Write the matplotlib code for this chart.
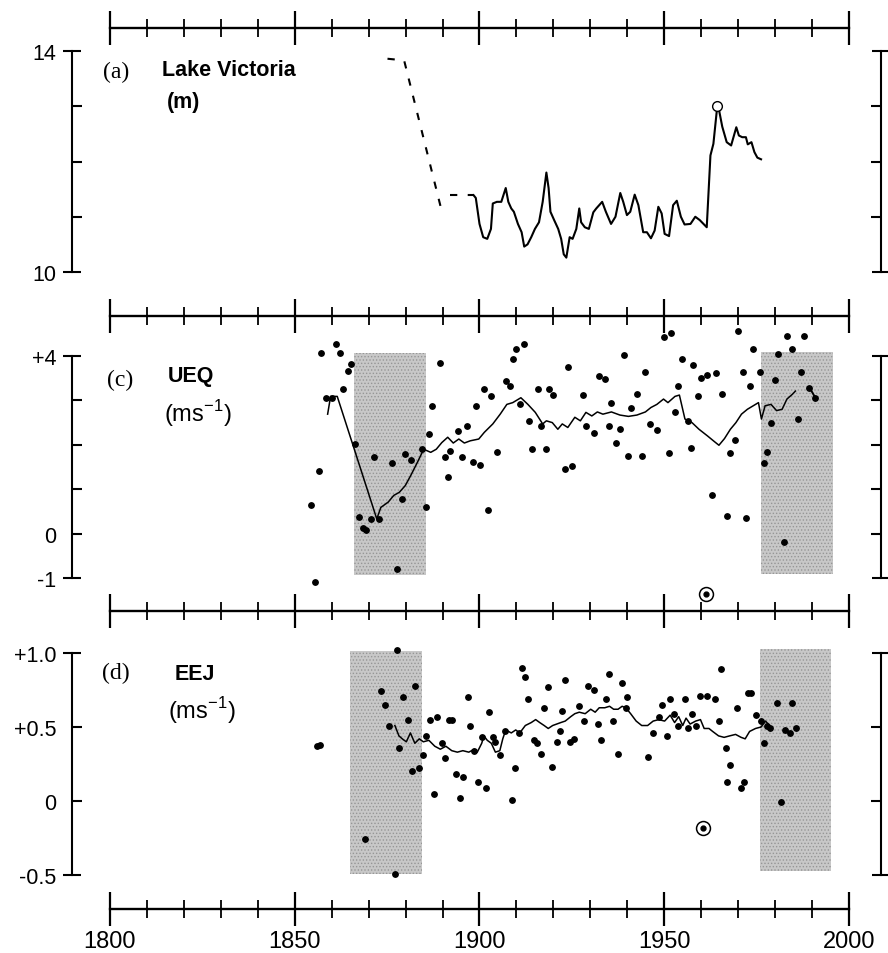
import matplotlib
matplotlib.use("Agg")
import matplotlib.pyplot as plt

plt.rcParams['font.family'] = ['Liberation Sans', 'DejaVu Sans']
plt.rcParams['mathtext.fontset'] = 'custom'
plt.rcParams['mathtext.rm'] = 'Liberation Sans'
plt.rcParams['hatch.linewidth'] = 0.6

# ---------------- data ----------------
# (a) Lake Victoria level (m)
lv_dash1_years = [1875.1, 1879.6, 1889.6]
lv_dash1_vals = [13.86, 13.83, 11.15]
lv_dash2_years = [1892.0, 1898.4]
lv_dash2_vals = [11.39, 11.39]
lv_years = [1898.4, 1899.0, 1900.0, 1901.0, 1902.1, 1903.1, 1903.6, 1904.7, 1905.9, 1907.1,
            1907.8, 1908.6, 1909.3, 1910.4, 1911.4, 1912.1, 1913.0, 1914.0, 1915.0, 1916.1,
            1917.1, 1918.1, 1918.7, 1919.2, 1920.2, 1921.3, 1922.1, 1922.8, 1923.5, 1924.4,
            1925.2, 1926.2, 1927.0, 1927.5, 1928.5, 1929.6, 1930.8, 1931.6, 1933.2, 1934.2,
            1935.6, 1936.8, 1938.1, 1938.9, 1939.9, 1940.8, 1942.0, 1943.0, 1944.3, 1945.3,
            1946.4, 1947.4, 1948.4, 1949.3, 1950.1, 1951.3, 1952.4, 1953.4, 1954.5, 1955.5,
            1957.1, 1958.4, 1959.6, 1961.5, 1962.5, 1963.3, 1964.3, 1964.8, 1965.7, 1966.9,
            1968.1, 1969.5, 1970.2, 1971.1, 1972.1, 1972.6, 1973.6, 1974.4, 1975.2, 1976.2]
lv_vals = [11.39, 11.34, 10.87, 10.63, 10.60, 10.78, 11.24, 11.27, 11.27, 11.52,
           11.27, 11.15, 11.09, 10.87, 10.72, 10.46, 10.50, 10.63, 10.78, 10.90,
           11.27, 11.80, 11.52, 11.09, 10.94, 10.78, 10.60, 10.32, 10.26, 10.63,
           10.60, 10.78, 11.15, 10.90, 10.81, 10.78, 11.08, 11.15, 11.27, 11.09,
           10.87, 11.00, 11.43, 11.27, 11.03, 11.09, 11.40, 11.21, 10.72, 10.72,
           10.61, 10.75, 11.18, 11.06, 10.69, 10.65, 11.21, 11.29, 11.00, 10.86,
           10.87, 11.00, 10.94, 10.81, 12.11, 12.32, 12.97, 12.94, 12.63, 12.35,
           12.29, 12.62, 12.47, 12.44, 12.44, 12.31, 12.35, 12.17, 12.07, 12.04]
lv_peak_year, lv_peak_val = 1964.3, 13.01

# (c) UEQ (m/s): annual values (dots) and running mean (line)
ueq_years = [1854.3, 1855.4, 1856.5, 1857.2, 1858.5, 1860.0, 1861.2, 1862.3, 1863.0, 1864.3,
             1865.3, 1866.4, 1867.3, 1868.4, 1869.2, 1870.7, 1871.5, 1872.7, 1876.4, 1877.6,
             1879.1, 1879.9, 1881.4, 1884.5, 1885.5, 1886.3, 1887.2, 1889.2, 1890.6, 1891.4,
             1892.1, 1894.1, 1895.2, 1896.7, 1898.2, 1899.0, 1900.2, 1901.3, 1902.4, 1903.0,
             1904.8, 1907.1, 1908.2, 1909.0, 1910.0, 1912.0, 1911.0, 1913.5, 1914.3, 1915.8,
             1916.6, 1918.1, 1918.9, 1920.0, 1923.2, 1923.9, 1925.0, 1928.0, 1928.8, 1931.1,
             1932.4, 1933.9, 1935.0, 1935.7, 1936.9, 1938.0, 1939.1, 1940.3, 1941.1, 1942.6,
             1944.1, 1944.9, 1946.1, 1948.0, 1949.8, 1951.8, 1951.3, 1952.9, 1953.8, 1954.9,
             1956.4, 1957.2, 1957.9, 1959.1, 1959.9, 1961.7, 1963.0, 1964.0, 1965.6, 1967.1,
             1967.9, 1969.1, 1969.9, 1971.2, 1972.1, 1973.2, 1974.0, 1975.8, 1977.0, 1977.8,
             1978.9, 1980.1, 1980.9, 1982.4, 1983.2, 1984.7, 1986.2, 1987.0, 1987.8, 1989.3,
             1990.8]
ueq_vals = [0.65, -1.09, 1.42, 4.07, 3.06, 3.06, 4.26, 4.06, 3.25, 3.66,
            3.81, 2.02, 0.37, 0.12, 0.09, 0.33, 1.72, 0.33, 1.60, -0.79,
            0.78, 1.79, 1.66, 1.90, 0.59, 2.24, 2.88, 3.84, 1.72, 1.27,
            1.87, 2.32, 1.72, 2.43, 1.62, 2.88, 1.55, 3.25, 0.54, 3.09,
            1.84, 3.44, 3.33, 3.94, 4.15, 4.26, 2.91, 2.54, 1.90, 3.25,
            2.43, 1.90, 3.25, 3.12, 1.46, 3.76, 1.53, 3.12, 2.43, 2.26,
            3.55, 3.49, 2.43, 2.95, 2.04, 2.35, 4.03, 1.75, 2.84, 3.14,
            1.75, 3.63, 2.47, 2.34, 4.43, 4.51, 1.81, 2.74, 3.33, 3.93,
            2.54, 1.92, 3.79, 3.09, 3.51, 3.57, 0.87, 3.61, 3.14, 0.39,
            1.81, 2.11, 4.56, 3.63, 0.35, 3.33, 4.15, 3.64, 1.60, 1.83,
            2.50, 3.46, 4.04, -0.18, 4.46, 4.15, 2.58, 3.64, 4.46, 3.27,
            3.06]
ueq_mean_years = [1858.9, 1859.7, 1861.5, 1872.2, 1873.3, 1875.3, 1876.8, 1878.3, 1879.9, 1881.4,
                  1883.4, 1884.9, 1886.8, 1888.3, 1889.8, 1891.4, 1892.9, 1894.4, 1895.9, 1897.5,
                  1899.8, 1901.3, 1903.6, 1905.6, 1907.4, 1909.0, 1911.2, 1913.1, 1915.1, 1917.1,
                  1918.1, 1919.7, 1921.2, 1922.4, 1923.9, 1925.8, 1927.3, 1928.8, 1930.4, 1931.9,
                  1933.4, 1935.7, 1938.0, 1940.3, 1942.6, 1944.9, 1946.4, 1948.0, 1949.8, 1951.0,
                  1952.9, 1954.1, 1955.6, 1957.5, 1959.4, 1961.7, 1963.6, 1964.8, 1966.3, 1967.9,
                  1969.4, 1970.9, 1972.5, 1974.3, 1975.5, 1976.3, 1977.3, 1978.9, 1980.4, 1981.9,
                  1983.2, 1984.7, 1985.5]
ueq_mean_vals = [2.69, 3.09, 3.09, 0.33, 0.59, 0.71, 0.86, 0.93, 1.08, 1.31,
                 1.64, 1.90, 1.83, 1.90, 2.05, 2.17, 2.04, 2.13, 2.04, 2.09,
                 2.13, 2.28, 2.47, 2.69, 2.91, 2.95, 3.06, 2.91, 2.73, 2.47,
                 2.54, 2.50, 2.35, 2.47, 2.39, 2.62, 2.54, 2.73, 2.65, 2.74,
                 2.69, 2.74, 2.67, 2.64, 2.67, 2.74, 2.84, 2.91, 3.03, 2.95,
                 3.09, 3.12, 2.58, 2.50, 2.35, 2.20, 2.07, 1.99, 2.14, 2.35,
                 2.50, 2.69, 2.80, 2.89, 2.95, 2.58, 2.88, 2.91, 2.77, 2.80,
                 3.03, 3.14, 3.21]
ueq_tail_years = [1989.3, 1991.1]
ueq_tail_vals = [3.29, 3.03]
ueq_flag_year, ueq_flag_val = 1961.3, -1.37

# (d) EEJ (m/s)
eej_years = [1855.9, 1856.7, 1869.0, 1873.3, 1874.3, 1875.6, 1877.1, 1877.6, 1878.3, 1879.4,
             1880.6, 1881.7, 1882.5, 1883.7, 1884.8, 1885.6, 1886.6, 1887.6, 1888.6, 1889.9,
             1890.6, 1891.7, 1892.5, 1893.7, 1894.8, 1895.5, 1896.8, 1897.5, 1898.6, 1899.7,
             1900.6, 1901.7, 1902.5, 1903.7, 1904.3, 1905.5, 1906.8, 1908.9, 1909.7, 1910.6,
             1911.4, 1912.4, 1913.2, 1914.7, 1915.5, 1916.6, 1917.5, 1918.6, 1919.7, 1921.0,
             1921.7, 1922.4, 1923.2, 1924.4, 1925.5, 1927.0, 1928.3, 1929.3, 1930.9, 1932.0,
             1932.8, 1934.3, 1935.1, 1936.0, 1937.5, 1938.6, 1939.6, 1939.8, 1945.5, 1947.0,
             1948.5, 1949.3, 1950.8, 1951.6, 1952.7, 1953.6, 1955.5, 1956.5, 1957.5, 1958.5,
             1959.6, 1961.6, 1963.6, 1964.7, 1965.4, 1966.7, 1967.7, 1966.9, 1969.7, 1970.8,
             1971.6, 1972.7, 1973.4, 1974.7, 1976.2, 1977.0, 1977.7, 1978.5, 1980.5, 1981.6,
             1982.8, 1983.9, 1984.6, 1985.7]
eej_vals = [0.37, 0.38, -0.26, 0.74, 0.65, 0.51, -0.49, 1.02, 0.36, 0.70,
            0.55, 0.20, 0.78, 0.22, 0.31, 0.44, 0.55, 0.05, 0.57, 0.39,
            0.29, 0.55, 0.55, 0.18, 0.02, 0.16, 0.70, 0.51, 0.34, 0.13,
            0.43, 0.09, 0.60, 0.43, 0.40, 0.31, 0.47, 0.01, 0.22, 0.46,
            0.90, 0.84, 0.69, 0.41, 0.39, 0.32, 0.63, 0.77, 0.23, 0.40,
            0.47, 0.61, 0.82, 0.40, 0.42, 0.64, 0.54, 0.78, 0.75, 0.52,
            0.41, 0.69, 0.86, 0.54, 0.32, 0.80, 0.63, 0.70, 0.30, 0.46,
            0.57, 0.65, 0.44, 0.69, 0.59, 0.51, 0.69, 0.49, 0.59, 0.51,
            0.71, 0.71, 0.69, 0.54, 0.89, 0.36, 0.24, 0.13, 0.63, 0.09,
            0.13, 0.73, 0.73, 0.58, 0.54, 0.39, 0.51, 0.49, 0.66, -0.01,
            0.48, 0.46, 0.66, 0.49]
eej_mean_years = [1877.1, 1878.2, 1879.1, 1880.2, 1881.3, 1882.5, 1883.7, 1884.8, 1886.3, 1887.9,
                  1889.4, 1890.9, 1892.5, 1894.0, 1895.5, 1897.1, 1898.6, 1899.4, 1900.6, 1901.2,
                  1902.1, 1903.2, 1904.3, 1905.5, 1906.3, 1907.1, 1908.6, 1909.8, 1910.9, 1912.4,
                  1914.0, 1915.2, 1916.3, 1917.5, 1918.6, 1919.8, 1920.9, 1922.0, 1923.2, 1924.7,
                  1925.8, 1927.0, 1928.6, 1930.1, 1931.3, 1932.4, 1933.9, 1935.2, 1936.3, 1937.5,
                  1938.6, 1939.6, 1940.9, 1942.4, 1943.9, 1945.5, 1947.0, 1948.5, 1950.1, 1951.6,
                  1952.8, 1953.9, 1955.0, 1955.9, 1957.0, 1958.5, 1959.8, 1960.8, 1962.1, 1963.1,
                  1964.7, 1966.2, 1967.7, 1969.3, 1970.8, 1971.9, 1973.1, 1974.7, 1976.2, 1977.4,
                  1978.5]
eej_mean_vals = [0.51, 0.44, 0.42, 0.40, 0.46, 0.39, 0.42, 0.40, 0.41, 0.37,
                 0.35, 0.37, 0.34, 0.33, 0.34, 0.33, 0.35, 0.33, 0.39, 0.44,
                 0.41, 0.39, 0.33, 0.34, 0.42, 0.48, 0.46, 0.48, 0.46, 0.51,
                 0.53, 0.55, 0.53, 0.51, 0.49, 0.51, 0.52, 0.53, 0.54, 0.57,
                 0.59, 0.60, 0.59, 0.62, 0.60, 0.63, 0.63, 0.64, 0.62, 0.62,
                 0.64, 0.63, 0.59, 0.54, 0.51, 0.51, 0.54, 0.55, 0.54, 0.58,
                 0.53, 0.57, 0.51, 0.56, 0.52, 0.54, 0.55, 0.49, 0.49, 0.47,
                 0.44, 0.43, 0.44, 0.45, 0.43, 0.42, 0.47, 0.49, 0.50, 0.54,
                 0.51]
eej_flag_year, eej_flag_val = 1960.5, -0.18

# shaded periods
ueq_shades = [(1866.0, 1885.5, -0.94, 4.06), (1976.3, 1995.7, -0.90, 4.10)]
eej_shades = [(1865.0, 1884.5, -0.49, 1.015), (1975.8, 1995.0, -0.47, 1.03)]

time_major = [1800, 1850, 1900, 1950, 2000]
time_minor = list(range(1800, 2001, 10))
time_labels = ['1800', '1850', '1900', '1950', '2000']

# ---------------- layout ----------------
W, H = 888, 954
fig = plt.figure(figsize=(W / 100, H / 100), dpi=100)

X_LEFT, X_RIGHT = 72, 881          # y-axis spines (px)
T0, T1 = 110, 849                  # 1800 and 2000 positions (px)
pxyr = (T1 - T0) / 200.0
XLIM = (1800 - (T0 - X_LEFT) / pxyr, 2000 + (X_RIGHT - T1) / pxyr)


def fx(px):
    return px / W


def fy(py):
    return 1 - py / H


def panel(top, bot, ylim, major, major_lab, minor, minor_lab):
    ax = fig.add_axes([fx(X_LEFT), fy(bot), (X_RIGHT - X_LEFT) / W, (bot - top) / H])
    ax.set_xlim(XLIM)
    ax.set_ylim(ylim)
    ax.patch.set_visible(False)
    for s in ['top', 'bottom']:
        ax.spines[s].set_visible(False)
    for s in ['left', 'right']:
        ax.spines[s].set_linewidth(1.5)
    ax.set_xticks([])
    ax.set_yticks(major)
    ax.set_yticklabels(major_lab)
    ax.set_yticks(minor, minor=True)
    ax.set_yticklabels(minor_lab, minor=True)
    ax.tick_params(axis='y', which='major', direction='inout', length=13, width=1.5,
                   left=True, right=True, labelleft=True, labelright=False,
                   labelsize=15.5, pad=5)
    ax.tick_params(axis='y', which='minor', direction='in', length=7, width=1.5,
                   left=True, right=True, labelleft=True, labelright=False,
                   labelsize=15.5, pad=11)
    return ax


def time_axis(ypx, labels=False):
    ax = fig.add_axes([fx(X_LEFT), fy(ypx), (X_RIGHT - X_LEFT) / W, 1e-4])
    ax.set_xlim(XLIM)
    ax.patch.set_visible(False)
    for s in ['top', 'left', 'right']:
        ax.spines[s].set_visible(False)
    ax.spines['bottom'].set_bounds(1800, 2000)
    ax.spines['bottom'].set_linewidth(1.7)
    ax.set_yticks([])
    ax.set_xticks(time_major)
    ax.set_xticks(time_minor, minor=True)
    ax.tick_params(axis='x', which='major', direction='inout', length=24, width=1.6,
                   labelsize=17, pad=3)
    ax.tick_params(axis='x', which='minor', direction='inout', length=13, width=1.3)
    if labels:
        ax.set_xticklabels(time_labels)
    else:
        ax.set_xticklabels([])
    return ax


# ---- panel (a)
axa = panel(52, 273, (10, 14), [10, 14], ['10', '14'], [11, 12, 13], ['', '', ''])
axa.plot(lv_dash1_years, lv_dash1_vals, color='black', lw=1.5, ls=(0, (3.5, 5)))
axa.plot(lv_dash2_years, lv_dash2_vals, color='black', lw=1.5, ls=(0, (3.5, 5)))
axa.plot(lv_years, lv_vals, color='black', lw=1.5)
axa.plot([lv_peak_year], [lv_peak_val], marker='o', ms=7, mfc='white', mec='black', mew=1.0)

# ---- panel (c)
axc = panel(357, 579, (-1, 4), [-1, 4], ['-1', '+4'], [0, 1, 2, 3], ['0', '', '', ''])
for x0, x1, y0, y1 in ueq_shades:
    axc.fill_between([x0, x1], [y0, y0], [y1, y1], facecolor='#c8c8c8', edgecolor='#969696',
                     hatch='.....', lw=0, zorder=0, clip_on=False)
axc.plot(ueq_years, ueq_vals, ls='none', marker='o', ms=3.9, color='black', clip_on=False, zorder=3)
axc.plot(ueq_mean_years, ueq_mean_vals, color='black', lw=1.1, zorder=3)
axc.plot(ueq_tail_years, ueq_tail_vals, color='black', lw=1.4, zorder=3)
axc.plot([ueq_flag_year], [ueq_flag_val], marker='o', ms=10, mfc='white', mec='black', mew=1.1,
         clip_on=False, zorder=4)
axc.plot([ueq_flag_year], [ueq_flag_val], marker='o', ms=3.5, color='black', clip_on=False, zorder=5)

# ---- panel (d)
axd = panel(654, 876, (-0.5, 1.0), [-0.5, 1.0], ['-0.5', '+1.0'], [0, 0.5], ['0', '+0.5'])
for x0, x1, y0, y1 in eej_shades:
    axd.fill_between([x0, x1], [y0, y0], [y1, y1], facecolor='#c8c8c8', edgecolor='#969696',
                     hatch='.....', lw=0, zorder=0, clip_on=False)
axd.plot(eej_years, eej_vals, ls='none', marker='o', ms=3.9, color='black', clip_on=False, zorder=3)
axd.plot(eej_mean_years, eej_mean_vals, color='black', lw=1.1, zorder=3)
axd.plot([eej_flag_year], [eej_flag_val], marker='o', ms=10, mfc='white', mec='black', mew=1.1,
         clip_on=False, zorder=4)
axd.plot([eej_flag_year], [eej_flag_val], marker='o', ms=3.5, color='black', clip_on=False, zorder=5)

# ---- time axes
time_axis(29)
time_axis(317)
time_axis(612)
time_axis(910, labels=True)

# ---- panel annotations
serif = 'Liberation Serif'
fig.text(fx(103), fy(72), '(a)', family=serif, fontsize=17, va='center', ha='left')
fig.text(fx(162), fy(71), 'Lake Victoria', fontsize=15.5, fontweight='bold', va='center', ha='left')
fig.text(fx(167), fy(103), '(m)', fontsize=15.5, fontweight='bold', va='center', ha='left')

fig.text(fx(107), fy(380), '(c)', family=serif, fontsize=17, va='center', ha='left')
fig.text(fx(168), fy(377), 'UEQ', fontsize=15.5, fontweight='bold', va='center', ha='left')
fig.text(fx(164), fy(414), r'(ms$^{\mathrm{-1}}$)', fontsize=17, va='center', ha='left')

fig.text(fx(102), fy(673), '(d)', family=serif, fontsize=17, va='center', ha='left')
fig.text(fx(175), fy(675), 'EEJ', fontsize=15.5, fontweight='bold', va='center', ha='left')
fig.text(fx(168), fy(711), r'(ms$^{\mathrm{-1}}$)', fontsize=17, va='center', ha='left')

fig.savefig('out.png', dpi=100)
